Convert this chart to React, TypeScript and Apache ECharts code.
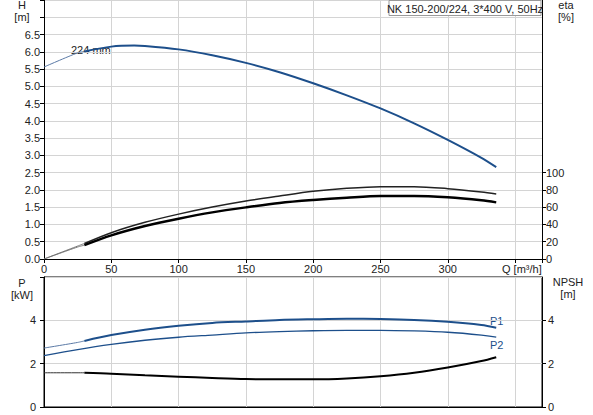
import { useEffect, useRef } from 'react';
import * as echarts from 'echarts';

// Q [m3/h] -> value pairs
const headThin = [[0, 5.56], [25, 5.97], [30, 6.01]];
const headMain = [
  [30, 6.01], [50, 6.15], [67, 6.18], [75, 6.17], [100, 6.07], [125, 5.9], [150, 5.68], [175, 5.41],
  [200, 5.09], [225, 4.74], [250, 4.36], [275, 3.93], [300, 3.45], [325, 2.93], [336, 2.66],
];

const etaPumpThin = [[0, 0], [25, 15], [30, 18]];
const etaPump = [
  [30, 18], [50, 30.5], [75, 42.5], [100, 52], [125, 60.2], [150, 67.2], [175, 73], [200, 78.4],
  [225, 81.9], [250, 83.8], [275, 83.8], [300, 81.5], [325, 77.6], [336, 75.3],
];
const etaTotalThin = [[0, 0], [25, 13.9], [30, 16]];
const etaTotal = [
  [30, 16], [50, 27.4], [75, 38.2], [100, 46.7], [125, 54], [150, 59.8], [175, 64.9], [200, 68.3],
  [225, 71], [250, 73], [275, 73], [300, 71.4], [325, 68], [336, 65.6],
];

const p1Thin = [[0, 2.72], [25, 2.98], [30, 3.05]];
const p1 = [
  [30, 3.05], [50, 3.32], [75, 3.57], [100, 3.75], [125, 3.88], [150, 3.95], [175, 4.02], [200, 4.05],
  [225, 4.07], [250, 4.06], [275, 4.02], [300, 3.93], [325, 3.78], [336, 3.66],
];
const p2 = [
  [0, 2.37], [25, 2.65], [50, 2.89], [75, 3.08], [100, 3.22], [125, 3.32], [150, 3.42], [175, 3.48],
  [200, 3.52], [225, 3.54], [250, 3.54], [275, 3.51], [300, 3.45], [325, 3.32], [336, 3.23],
];
const npshThin = [[0, 1.58], [30, 1.58]];
const npsh = [
  [30, 1.58], [50, 1.54], [75, 1.46], [100, 1.4], [125, 1.34], [150, 1.29], [175, 1.28], [200, 1.28],
  [225, 1.32], [250, 1.42], [275, 1.58], [300, 1.82], [325, 2.12], [336, 2.3],
];

const etaTicks = [0, 20, 40, 60, 80, 100];
const npshTicks = [0, 2, 4];

const title = 'NK 150-200/224, 3*400 V, 50Hz';

const FONT = '"Liberation Sans", Arial, sans-serif';
const BLUE = '#1d4f8b';
const GRID = '#d4d4d4';

export default function App() {
  const chartRef = useRef<HTMLDivElement>(null);

  useEffect(() => {
    if (!chartRef.current) return;
    const chart = echarts.init(chartRef.current, null, { renderer: 'svg' });

    const label = { color: '#222', fontSize: 11, fontFamily: FONT };
    const axisLine = { show: true, lineStyle: { color: '#000', width: 1 } };
    const tick = { show: true, length: 4, lineStyle: { color: '#000' } };
    const split = { show: true, lineStyle: { color: GRID, width: 1 } };

    const line = (name: string, data: number[][], x: number, y: number, color: string, width: number) => ({
      name,
      type: 'line',
      xAxisIndex: x,
      yAxisIndex: y,
      data,
      smooth: 0.3,
      showSymbol: false,
      symbol: 'none',
      lineStyle: { color, width },
      silent: true,
    });

    const text = (t: string, x: number, y: number, align = 'left', color = '#222') => ({
      type: 'text',
      x,
      y,
      style: { text: t, fill: color, fontSize: 11, fontFamily: FONT, align, verticalAlign: 'middle' },
    });

    const option = {
      animation: false,
      backgroundColor: '#fff',
      grid: [
        { left: 44, right: 51, top: 0, height: 259, show: false },
        { left: 44, right: 51, top: 277, height: 130, show: true, borderColor: '#000', borderWidth: 1 },
      ],
      xAxis: [
        {
          type: 'value', gridIndex: 0, min: 0, max: 370, interval: 50,
          axisLine, axisTick: tick, splitLine: split,
          axisLabel: { ...label, margin: 4, formatter: (v: number) => (v >= 350 ? '' : String(v)) },
        },
        {
          type: 'value', gridIndex: 1, min: 0, max: 370, interval: 50,
          axisLine, axisTick: { show: false }, splitLine: split,
          axisLabel: { show: false },
        },
      ],
      yAxis: [
        {
          type: 'value', gridIndex: 0, min: 0, max: 7.5, interval: 0.5,
          axisLine, axisTick: tick, splitLine: split,
          axisLabel: { ...label, margin: 4, formatter: (v: number) => (v > 6.6 ? '' : v.toFixed(1)) },
        },
        {
          type: 'value', gridIndex: 0, min: 0, max: 300, position: 'right',
          axisLine, splitLine: { show: false },
          axisTick: { ...tick, customValues: etaTicks },
          axisLabel: { ...label, margin: 4, customValues: etaTicks },
        },
        {
          type: 'value', gridIndex: 1, min: 0, max: 6, interval: 2,
          axisLine, axisTick: tick, splitLine: split,
          axisLabel: { ...label, margin: 8, formatter: (v: number) => (v > 5 ? '' : String(v)) },
        },
        {
          type: 'value', gridIndex: 1, min: 0, max: 6, position: 'right',
          axisLine, splitLine: { show: false },
          axisTick: { ...tick, customValues: npshTicks },
          axisLabel: { ...label, margin: 6, customValues: npshTicks },
        },
      ],
      series: [
        line('H thin', headThin, 0, 0, '#5b7aa6', 1),
        line('H', headMain, 0, 0, BLUE, 2),
        line('eta pump thin', etaPumpThin, 0, 1, '#777', 1),
        line('eta pump', etaPump, 0, 1, '#222', 1.5),
        line('eta total thin', etaTotalThin, 0, 1, '#777', 1),
        line('eta total', etaTotal, 0, 1, '#000', 2.5),
        line('P1 thin', p1Thin, 1, 2, '#5b7aa6', 1),
        line('P1', p1, 1, 2, BLUE, 2),
        line('P2', p2, 1, 2, BLUE, 1.3),
        line('NPSH thin', npshThin, 1, 3, '#333', 1),
        line('NPSH', npsh, 1, 3, '#000', 2),
      ],
      graphic: [
        {
          type: 'rect',
          shape: { x: 389, y: 0.5, width: 152, height: 15 },
          style: { fill: '#fff', stroke: '#999', lineWidth: 1 },
          z: 10,
        },
        { ...text(title, 465, 8.5, 'center'), z: 11 },
        text('H', 22, 5, 'center'),
        text('[m]', 22, 17, 'center'),
        text('eta', 566, 5, 'center'),
        text('[%]', 566, 17, 'center'),
        text('P', 22, 283, 'center'),
        text('[kW]', 22, 295, 'center'),
        text('NPSH', 568, 282, 'center'),
        text('[m]', 568, 294, 'center'),
        text('Q [m³/h]', 502, 269),
        text('224 mm', 71, 50),
        text('P1', 490, 321, 'left', BLUE),
        text('P2', 490, 345, 'left', BLUE),
      ],
    };

    chart.setOption(option);
    return () => chart.dispose();
  }, []);

  return (
    <div
      ref={chartRef}
      style={{ position: 'absolute', left: 0, top: 0, width: 593, height: 415 }}
    />
  );
}
